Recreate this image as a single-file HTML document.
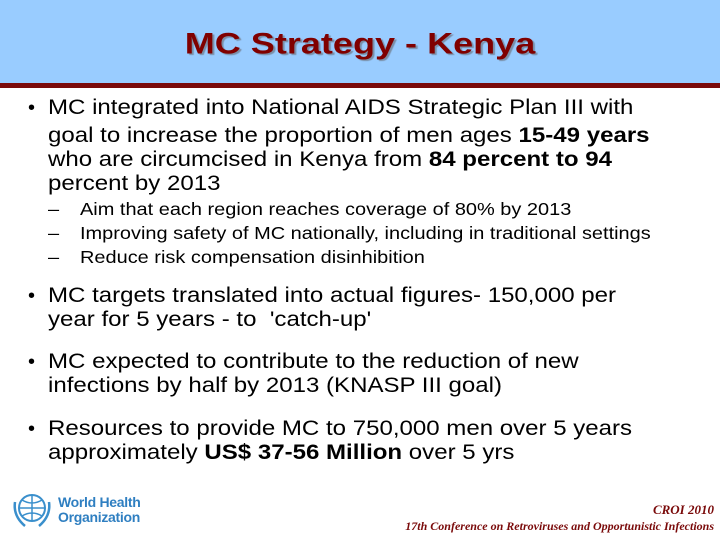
<!DOCTYPE html>
<html><head><meta charset="utf-8"><style>
body{margin:0;width:720px;height:540px;overflow:hidden;background:#fff;font-family:"Liberation Sans",Arial,sans-serif;position:relative}
.hdr{position:absolute;left:0;top:0;width:720px;height:83px;background:#99ccff}
.rule{position:absolute;left:0;top:83px;width:720px;height:5px;background:#7a0a0a}
.title{position:absolute;left:0;top:23px;width:720px;text-align:center;font-size:35px;line-height:42px;font-weight:bold;color:#800000;text-shadow:2px 2px 1px #7a8fa8;white-space:nowrap;transform:scaleY(0.85) scaleX(1.03)}
.l{position:absolute;white-space:nowrap;font-size:21px;color:#000;line-height:24px;transform:scaleX(1.145);transform-origin:0 50%}
.s{position:absolute;white-space:nowrap;font-size:17.5px;color:#000;line-height:22px;transform:scaleX(1.14);transform-origin:0 50%}
.b{position:absolute;font-size:20px;line-height:24px}
.footer{position:absolute;font-family:"Liberation Serif",serif;font-style:italic;font-weight:bold;color:#7a0a0a;white-space:nowrap}
</style></head><body>
<div class="hdr"></div>
<div class="rule"></div>
<div class="title">MC Strategy - Kenya</div>

<div>
<div class="b" style="left:28px;top:96px">•</div>
<div class="l" style="left:48px;top:96px">MC integrated into National AIDS Strategic Plan III with</div>
<div class="l" style="left:48px;top:124px">goal to increase the proportion of men ages <b>15-49 years</b></div>
<div class="l" style="left:48px;top:148px">who are circumcised in Kenya from <b>84 percent to 94</b></div>
<div class="l" style="left:48px;top:172px">percent by 2013</div>
</div>
<div>
<div class="s" style="left:48px;top:198px">–</div><div class="s" style="left:80px;top:198px">Aim that each region reaches coverage of 80% by 2013</div>
<div class="s" style="left:48px;top:222px">–</div><div class="s" style="left:80px;top:222px">Improving safety of MC nationally, including in traditional settings</div>
<div class="s" style="left:48px;top:246px">–</div><div class="s" style="left:80px;top:246px">Reduce risk compensation disinhibition</div>
</div>
<div>
<div class="b" style="left:28px;top:284px">•</div>
<div class="l" style="left:48px;top:284px">MC targets translated into actual figures- 150,000 per</div>
<div class="l" style="left:48px;top:308px">year for 5 years - to &nbsp;'catch-up'</div>
</div>
<div>
<div class="b" style="left:28px;top:350px">•</div>
<div class="l" style="left:48px;top:350px">MC expected to contribute to the reduction of new</div>
<div class="l" style="left:48px;top:374px">infections by half by 2013 (KNASP III goal)</div>
</div>
<div>
<div class="b" style="left:28px;top:417px">•</div>
<div class="l" style="left:48px;top:417px">Resources to provide MC to 750,000 men over 5 years</div>
<div class="l" style="left:48px;top:441px">approximately <b>US$ 37-56 Million</b> over 5 yrs</div>
</div>

<div style="position:absolute;left:10px;top:490px">
<svg width="44" height="40" viewBox="0 0 44 40"><circle cx="22" cy="18" r="13" fill="none" stroke="#3a8fcc" stroke-width="2"/><path d="M22 5v26M9 18h26M12 10q10 6 20 0M12 26q10-6 20 0" stroke="#3a8fcc" fill="none" stroke-width="1.5"/><path d="M5 12q-2 14 10 24M39 12q2 14-10 24" stroke="#3a8fcc" fill="none" stroke-width="2.5"/></svg>
</div>
<div style="position:absolute;left:58px;top:495px;color:#2f7fc1;font-size:14px;line-height:15px;font-weight:bold;letter-spacing:-0.3px">World Health<br>Organization</div>
<div class="footer" style="right:6px;top:502px;font-size:13px">CROI 2010</div>
<div class="footer" style="right:6px;top:519px;font-size:12px">17th Conference on Retroviruses and Opportunistic Infections</div>
</body></html>
